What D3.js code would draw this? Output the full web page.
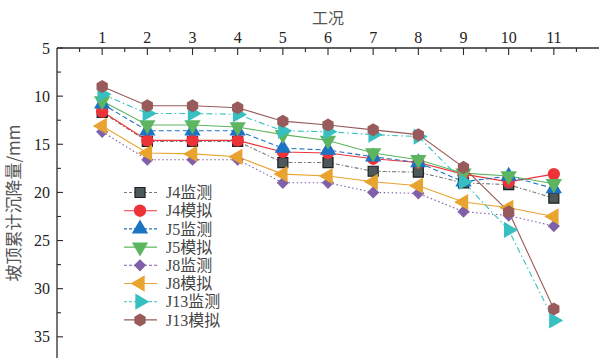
<!DOCTYPE html>
<html>
<head>
<meta charset="utf-8">
<script src="https://cdn.jsdelivr.net/npm/d3@7"></script>
<style>
  html, body { margin: 0; padding: 0; background: #fff; }
  svg { display: block; }
</style>
</head>
<body>
<svg id="chart" width="599" height="358"></svg>
<script>
// Working stages (工况) along the top axis
const stages = [1, 2, 3, 4, 5, 6, 7, 8, 9, 10, 11];

// Cumulative settlement at slope crest (mm) per point
const j4Measured  = [11.7, 14.7, 14.7, 14.7, 16.9, 16.9, 17.8, 17.9, 19.0, 19.2, 20.6];
const j4Simulated = [11.6, 14.6, 14.6, 14.6, 15.8, 15.9, 16.5, 16.9, 18.1, 18.9, 18.1];
const j5Measured  = [10.8, 13.6, 13.6, 13.6, 15.4, 15.6, 16.3, 16.9, 18.9, 18.3, 19.6];
const j5Simulated = [10.5, 13.0, 13.0, 13.2, 14.0, 14.6, 15.9, 16.6, 18.0, 18.3, 19.1];
const j8Measured  = [13.7, 16.6, 16.6, 16.6, 19.0, 19.0, 20.0, 20.1, 22.0, 22.4, 23.5];
const j8Simulated = [13.1, 15.9, 16.0, 16.3, 18.1, 18.3, 18.9, 19.3, 21.0, 21.6, 22.5];
const j13Measured = [9.8, 11.8, 11.8, 11.9, 13.6, 13.7, 14.0, 14.2, 18.9, 23.9, 33.3];
const j13Simulated= [9.0, 11.0, 11.0, 11.2, 12.6, 13.0, 13.5, 14.0, 17.4, 22.0, 32.1];

const seriesNames = ["J4监测", "J4模拟", "J5监测", "J5模拟", "J8监测", "J8模拟", "J13监测", "J13模拟"];
const seriesValues = [j4Measured, j4Simulated, j5Measured, j5Simulated, j8Measured, j8Simulated, j13Measured, j13Simulated];

const xTicks = stages;
const yTicks = [5, 10, 15, 20, 25, 30, 35];

// Hexagon symbol (pointy top)
const symbolHexagon = {
  draw(ctx, size) {
    const r = Math.sqrt(size / (1.5 * Math.sqrt(3)));
    for (let i = 0; i < 6; i++) {
      const a = Math.PI / 3 * i - Math.PI / 2;
      const px = r * Math.cos(a), py = r * Math.sin(a);
      if (i === 0) ctx.moveTo(px, py); else ctx.lineTo(px, py);
    }
    ctx.closePath();
  }
};

// Visual style per series
const styles = [
  { color: "#7a7a7a", fill: "#4c5859", stroke: "#1e1e1e", dash: "4,2,1.5,2", symbol: d3.symbolSquare,   size: 100, rotate: 0 },
  { color: "#ee3338", fill: "#ee3338", stroke: "none",    dash: null,         symbol: d3.symbolCircle,   size: 120, rotate: 0 },
  { color: "#1b73c4", fill: "#1b73c4", stroke: "none",    dash: "5,3",        symbol: d3.symbolTriangle, size: 115, rotate: 0 },
  { color: "#5db55f", fill: "#5db55f", stroke: "none",    dash: null,         symbol: d3.symbolTriangle, size: 115, rotate: 180 },
  { color: "#8060a8", fill: "#8060a8", stroke: "none",    dash: "1.5,2.5",    symbol: d3.symbolSquare,   size: 75,  rotate: 45 },
  { color: "#e9a32f", fill: "#e9a32f", stroke: "none",    dash: null,         symbol: d3.symbolTriangle, size: 115, rotate: -90 },
  { color: "#38bfbf", fill: "#38bfbf", stroke: "none",    dash: "6,3,1.5,3",  symbol: d3.symbolTriangle, size: 115, rotate: 90 },
  { color: "#985a5a", fill: "#985a5a", stroke: "none",    dash: null,         symbol: symbolHexagon,     size: 110, rotate: 0 }
];

const svg = d3.select("#chart");
const W = 599, H = 358;
const plotLeft = 57, plotTop = 48;

const x = d3.scaleLinear().domain([0, 12]).range([plotLeft, W]);
const y = d3.scaleLinear().domain([5, 37.2]).range([plotTop, H]);

const serif = "'Liberation Serif', 'Times New Roman', 'Noto Sans CJK SC', serif";
const cjk = "'Noto Sans CJK SC', 'Noto Sans', sans-serif";

// Top axis (stages)
const xMinor = d3.range(0.5, 12, 1);
const axisColor = "#2b2b2b";

const gx = svg.append("g").attr("transform", `translate(0,${plotTop})`);
gx.append("line").attr("x1", plotLeft).attr("x2", W).attr("y1", 0).attr("y2", 0)
  .attr("stroke", axisColor).attr("stroke-width", 1.3);
gx.selectAll("line.major").data(xTicks).join("line").attr("class", "major")
  .attr("x1", d => x(d)).attr("x2", d => x(d)).attr("y1", 0).attr("y2", 7)
  .attr("stroke", axisColor).attr("stroke-width", 1.1);
gx.selectAll("line.minor").data(xMinor).join("line").attr("class", "minor")
  .attr("x1", d => x(d)).attr("x2", d => x(d)).attr("y1", 0).attr("y2", 4)
  .attr("stroke", axisColor).attr("stroke-width", 1.1);
gx.selectAll("text").data(xTicks).join("text")
  .attr("x", d => x(d)).attr("y", -5)
  .attr("text-anchor", "middle")
  .attr("font-family", serif).attr("font-size", 16).attr("fill", "#222")
  .text(d => d);

svg.append("text").attr("x", x(6)).attr("y", 24)
  .attr("text-anchor", "middle")
  .attr("font-family", cjk).attr("font-size", 16).attr("fill", "#555")
  .text("工况");

// Left axis (settlement)
const yMinor = d3.range(7.5, 37, 5);
const gy = svg.append("g").attr("transform", `translate(${plotLeft},0)`);
gy.append("line").attr("x1", 0).attr("x2", 0).attr("y1", plotTop).attr("y2", H)
  .attr("stroke", axisColor).attr("stroke-width", 1.3);
gy.selectAll("line.major").data(yTicks).join("line").attr("class", "major")
  .attr("x1", 0).attr("x2", 6).attr("y1", d => y(d)).attr("y2", d => y(d))
  .attr("stroke", axisColor).attr("stroke-width", 1.1);
gy.selectAll("line.minor").data(yMinor).join("line").attr("class", "minor")
  .attr("x1", 0).attr("x2", 4).attr("y1", d => y(d)).attr("y2", d => y(d))
  .attr("stroke", axisColor).attr("stroke-width", 1.1);
gy.selectAll("text").data(yTicks).join("text")
  .attr("x", -7).attr("y", d => y(d)).attr("dy", "0.35em")
  .attr("text-anchor", "end")
  .attr("font-family", serif).attr("font-size", 16).attr("fill", "#222")
  .text(d => d);

svg.append("text")
  .attr("transform", `translate(20,${(plotTop + H) / 2}) rotate(-90)`)
  .attr("text-anchor", "middle")
  .attr("font-family", cjk).attr("font-size", 17).attr("fill", "#555")
  .text("坡顶累计沉降量/mm");

// Series lines and markers
const line = d3.line().x((d, i) => x(stages[i])).y(d => y(d));
const plot = svg.append("g");

seriesValues.forEach((vals, k) => {
  const s = styles[k];
  plot.append("path").datum(vals)
    .attr("d", line)
    .attr("fill", "none")
    .attr("stroke", s.color)
    .attr("stroke-width", 1.1)
    .attr("stroke-dasharray", s.dash);
});

seriesValues.forEach((vals, k) => {
  const s = styles[k];
  const sym = d3.symbol().type(s.symbol).size(s.size);
  plot.append("g").selectAll("path").data(vals).join("path")
    .attr("d", sym)
    .attr("transform", (d, i) => `translate(${x(stages[i])},${y(d)}) rotate(${s.rotate})`)
    .attr("fill", s.fill)
    .attr("stroke", s.stroke)
    .attr("stroke-width", 1.2);
});

// Legend
const legend = svg.append("g");
const lgX = 140, lgY0 = 192.5, lgStep = 18.2;
seriesNames.forEach((name, k) => {
  const s = styles[k];
  const yy = lgY0 + k * lgStep;
  legend.append("line")
    .attr("x1", lgX - 16).attr("x2", lgX + 17).attr("y1", yy).attr("y2", yy)
    .attr("stroke", s.color).attr("stroke-width", 1.1)
    .attr("stroke-dasharray", s.dash ? "3,2" : null);
  legend.append("path")
    .attr("d", d3.symbol().type(s.symbol).size(s.size))
    .attr("transform", `translate(${lgX},${yy}) rotate(${s.rotate})`)
    .attr("fill", s.fill).attr("stroke", s.stroke).attr("stroke-width", 1.2);
  legend.append("text")
    .attr("x", 166).attr("y", yy).attr("dy", "0.35em")
    .attr("font-family", serif).attr("font-size", 16).attr("fill", "#444")
    .text(name);
});
</script>
</body>
</html>
